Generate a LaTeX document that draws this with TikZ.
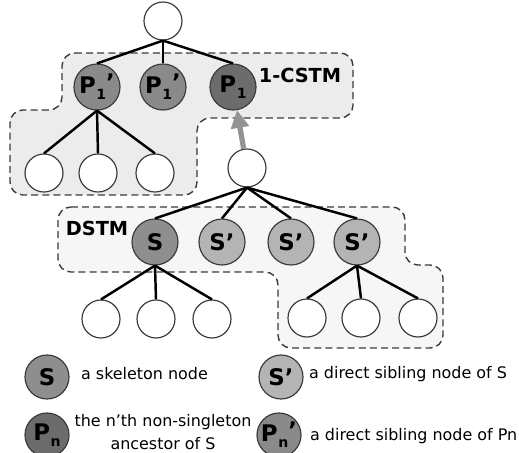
\documentclass[tikz,border=0pt]{standalone}
\usepackage{fontspec}
\setmainfont{DejaVu Sans}
\usetikzlibrary{arrows.meta}

\definecolor{skelgray}{HTML}{8E8E8E}
\definecolor{sibgray}{HTML}{B4B4B4}
\definecolor{ancgray}{HTML}{6C6C6C}
\definecolor{ancsibgray}{HTML}{8A8A8A}
\definecolor{rimgray}{HTML}{3A3A3A}

% P with subscript and optional prime
\newcommand{\Plab}[2]{P\kern0.5pt\raisebox{-0.5ex}{\fontsize{12}{12}\selectfont #1}\raisebox{0.2ex}{#2}}

\begin{document}
\begin{tikzpicture}[x=0.03cm, y=-0.03cm,
    font=\bfseries\fontsize{19.5}{21}\selectfont,
    ball/.style={circle, draw=rimgray, line width=1pt, inner sep=0pt, minimum size=1.38cm},
    leaf/.style={ball, fill=white, minimum size=1.14cm},
    skel/.style={ball, fill=skelgray},
    sib/.style={ball, fill=sibgray},
    anc/.style={ball, fill=ancgray},
    ancsib/.style={ball, fill=ancsibgray},
    keyball/.style={minimum size=1.32cm},
    region/.style={draw=rimgray, line width=1.2pt, dash pattern=on 6pt off 3.5pt, rounded corners=11pt},
    tag/.style={font=\bfseries\fontsize{16.5}{19}\selectfont},
    note/.style={font=\fontsize{13.6}{19}\selectfont, anchor=west},
    edge/.style={line width=2.1pt},
    up/.style={-{Triangle[length=15pt, width=15pt]}, line width=4.5pt, draw=gray!85}]
  \useasboundingbox (0,0) rectangle (519,453);

  % shaded regions
  \draw[region, fill=gray!15] (62,53) -- (353,53) -- (353,118) -- (197,118) -- (197,195)
       -- (10,195) -- (10,110) -- (62,110) -- cycle;
  \draw[region, fill=gray!7] (58,207) -- (405,207) -- (405,265) -- (443,265) -- (443,348)
       -- (278,348) -- (278,272) -- (58,272) -- cycle;
  \node[tag] (cstm) at (300,75) {1-CSTM};
  \node[tag] (dstm) at (97,228) {DSTM};

  % upper tree
  \node[leaf]   (top) at (163,21)  {};
  \node[ancsib] (pa)  at (97,87)   {\Plab{1}{’}};
  \node[ancsib] (pb)  at (163,87)  {\Plab{1}{’}};
  \node[anc]    (p1)  at (233,87)  {\Plab{1}{}};
  \node[leaf]   (la1) at (44,173)  {};
  \node[leaf]   (la2) at (98,173)  {};
  \node[leaf]   (la3) at (155,173) {};
  \node[leaf]   (mid) at (247,168) {};

  % lower tree
  \node[skel] (s)   at (155,242) {S};
  \node[sib]  (sa)  at (222,242) {S’};
  \node[sib]  (sb)  at (291,242) {S’};
  \node[sib]  (sc)  at (357,242) {S’};
  \node[leaf] (lb1) at (101,319) {};
  \node[leaf] (lb2) at (156,319) {};
  \node[leaf] (lb3) at (212,319) {};
  \node[leaf] (lc1) at (307,318) {};
  \node[leaf] (lc2) at (361,318) {};
  \node[leaf] (lc3) at (418,318) {};

  \draw[edge] (top.south) -- (pa.north);
  \draw[edge] (top.south) -- (pb.north);
  \draw[edge] (top.south) -- (p1.north);
  \draw[edge] (pa.south) -- (la1.north);
  \draw[edge] (pa.south) -- (la2.north);
  \draw[edge] (pa.south) -- (la3.north);
  \draw[edge] (mid.south) -- (s.north);
  \draw[edge] (mid.south) -- (sa.north);
  \draw[edge] (mid.south) -- (sb.north);
  \draw[edge] (mid.south) -- (sc.north);
  \draw[edge] (s.south) -- (lb1.north);
  \draw[edge] (s.south) -- (lb2.north);
  \draw[edge] (s.south) -- (lb3.north);
  \draw[edge] (sc.south) -- (lc1.north);
  \draw[edge] (sc.south) -- (lc2.north);
  \draw[edge] (sc.south) -- (lc3.north);
  \draw[up] (mid) -- (p1);

  % legend
  \node[skel, keyball]   (ks)  at (47,377)  {S};
  \node[sib, keyball]    (ksa) at (281,377) {S’};
  \node[anc, keyball]    (kp)  at (47,435)  {\Plab{n}{}};
  \node[ancsib, keyball] (kpa) at (279,435) {\Plab{n}{’}};
  \node[note] (ks-t)  at (77,374)  {a skeleton node};
  \node[note] (ksa-t) at (305,374) {a direct sibling node of S};
  \node[note, anchor=center, align=center] (kp-t) at (163,432)
       {the n’th non-singleton\\ancestor of S};
  \node[note] (kpa-t) at (306,436) {a direct sibling node of Pn};
\end{tikzpicture}
\end{document}
